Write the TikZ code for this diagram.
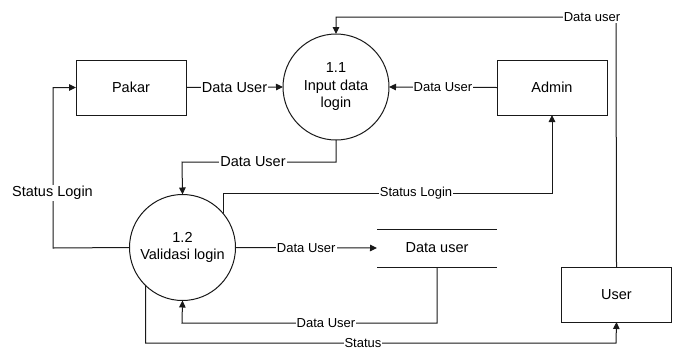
\documentclass[tikz,border=0pt]{standalone}
\usepackage{fontspec}
\setmainfont{Liberation Sans}
\usetikzlibrary{arrows.meta}
\begin{document}
\begin{tikzpicture}[x=1pt,y=-1pt,
  line width=1pt,
  entity/.style={draw=black!90, minimum width=110pt, minimum height=55pt, inner sep=0pt, outer sep=0pt,
    font=\fontsize{14.5}{17}\selectfont},
  proc/.style={draw=black!90, circle, minimum size=106pt, inner sep=0pt, outer sep=0pt, align=center,
    font=\fontsize{14.5}{17.5}\selectfont},
  storebox/.style={minimum width=120pt, minimum height=38pt, inner sep=0pt, outer sep=0pt,
    font=\fontsize{14.5}{17}\selectfont},
  flow/.style={draw=black!90, -{Triangle[length=7pt,width=6.5pt]}},
  plain/.style={draw=black!90},
  lbl/.style={fill=white, inner sep=1pt, font=\fontsize{13}{15}\selectfont},
  biglbl/.style={fill=white, inner sep=1pt, font=\fontsize{14.5}{17}\selectfont}]
  \useasboundingbox (0,0) rectangle (674,349);

  % external entities
  \node[entity] (pakar) at (131,87.5) {Pakar};
  \node[entity] (admin) at (552,87.5) {Admin};
  \node[entity] (user) at (616.5,294.5) {User};

  % processes
  \node[proc] (p11) at (336,87) {1.1\\Input data\\login};
  \node[proc] (p12) at (182.5,247.5) {1.2\\Validasi login};

  % data store
  \node[storebox] (store) at (437,248) {Data user};
  \draw[plain] (store.north west) -- (store.north east);
  \draw[plain] (store.south west) -- (store.south east);

  % bend points
  \coordinate (k1) at (182,162);
  \coordinate (k2) at (616,17);
  \coordinate (k3) at (53,248);
  \coordinate (k5) at (552,193);
  \coordinate (k6) at (182,323);
  \coordinate (k7) at (616,343);

  % flows
  \draw[flow] (pakar.east) -- node[biglbl]{Data User} (p11.west);
  \draw[flow] (admin.west) -- node[lbl]{Data User} (p11.east);
  \draw[flow] (p11.south) |- (k1) -- (p12.north);
  \node[biglbl] at (253,162) {Data User};
  \draw[flow] (user.north) -- (k2) -| (p11.north);
  \node[lbl] at (592,17) {Data user};
  \draw[flow] (p12.west) -- (k3) |- (pakar.west);
  \node[biglbl] at (52.5,193) {Status Login};
  \draw[flow] (p12.40) |- (k5) -- (admin.south);
  \node[lbl] at (416,193) {Status Login};
  \draw[flow] (p12.east) -- node[lbl, pos=0.5]{Data User} (store.west);
  \draw[flow] (store.south) |- (k6) -- (p12.south);
  \node[lbl] at (326,323) {Data User};
  \draw[flow] (p12.226) |- (k7) -- (user.south);
  \node[lbl] at (363,343) {Status};
\end{tikzpicture}
\end{document}
